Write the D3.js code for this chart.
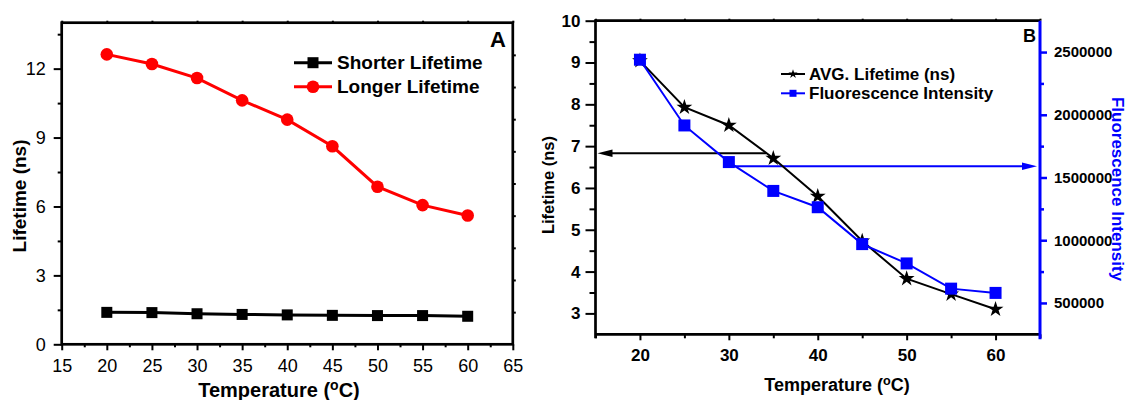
<!DOCTYPE html>
<html>
<head>
<meta charset="utf-8">
<script src="https://cdn.jsdelivr.net/npm/d3@7"></script>
<style>
  body { margin: 0; background: #fff; }
  svg { display: block; font-family: "Liberation Sans", Arial, sans-serif; }
</style>
</head>
<body>
<svg id="chart" width="1127" height="400"></svg>
<script>
// Temperatures measured (°C)
const temps = [20, 25, 30, 35, 40, 45, 50, 55, 60];

// Panel A: two lifetime components (ns)
const shorterLifetime = [1.39, 1.38, 1.33, 1.30, 1.28, 1.26, 1.25, 1.25, 1.22];
const longerLifetime  = [12.62, 12.20, 11.59, 10.62, 9.78, 8.62, 6.86, 6.06, 5.61];

// Panel B: average lifetime (ns) and fluorescence intensity (counts)
const avgLifetime  = [9.04, 7.93, 7.50, 6.71, 5.80, 4.73, 3.83, 3.46, 3.10];
const fluorescence = [2439000, 1915000, 1623000, 1393000, 1263000, 969000, 815000, 614000, 580000];

// Tick labels
const ticksAX = [15, 20, 25, 30, 35, 40, 45, 50, 55, 60, 65];
const ticksAY = [0, 3, 6, 9, 12];
const ticksBX = [20, 30, 40, 50, 60];
const ticksBY = [3, 4, 5, 6, 7, 8, 9, 10];
const ticksBRight = [500000, 1000000, 1500000, 2000000, 2500000];

// Axis-pointing arrows in panel B (data units)
const lifetimeArrow  = { from: 34.2, to: 15, value: 6.83 };
const intensityArrow = { from: 30, to: 65, value: 1590000 };

const svg = d3.select("#chart");
svg.append("rect").attr("width", 1127).attr("height", 400).attr("fill", "#fff");

function styleAxis(g, size, weight, width) {
  g.select(".domain").remove();
  g.selectAll("line").attr("stroke-width", width || 2);
  g.selectAll("text").attr("font-size", size).attr("font-weight", weight).attr("fill", "#000");
}

function temperatureTitle(x, y, size) {
  const t = svg.append("text").attr("x", x).attr("y", y).attr("text-anchor", "middle")
    .attr("font-size", size).attr("font-weight", "bold");
  t.append("tspan").text("Temperature (");
  t.append("tspan").attr("font-size", size * 0.7).attr("dy", -size * 0.36).text("o");
  t.append("tspan").attr("dy", size * 0.36).text("C)");
}

// ---------------- Panel A ----------------
const A = { l: 61.7, r: 512.8, t: 22.7, b: 344.3 };
const xA = d3.scaleLinear().domain([15, 65]).range([A.l, A.r]);
const yA = d3.scaleLinear().domain([0, 14]).range([A.b, A.t]);

// minor ticks
svg.append("g").attr("transform", `translate(0,${A.b})`)
  .call(d3.axisBottom(xA).tickValues([17.5, 22.5, 27.5, 32.5, 37.5, 42.5, 47.5, 52.5, 57.5, 62.5]).tickSize(3).tickFormat(""))
  .call(g => styleAxis(g, 18, "normal"));
svg.append("g").attr("transform", `translate(${A.l},0)`)
  .call(d3.axisLeft(yA).tickValues([1.5, 4.5, 7.5, 10.5, 13.5]).tickSize(4).tickFormat(""))
  .call(g => styleAxis(g, 18, "normal"));
svg.append("g").attr("transform", `translate(0,${A.t})`)
  .call(d3.axisTop(xA).tickValues(ticksAX).tickSize(2).tickFormat(""))
  .call(g => styleAxis(g, 18, "normal"));
svg.append("g").attr("transform", `translate(${A.r},0)`)
  .call(d3.axisRight(yA).tickValues([1.4, 2.8, 4.2, 5.6, 7, 8.4, 9.8, 11.2, 12.6]).tickSize(3).tickFormat(""))
  .call(g => styleAxis(g, 18, "normal"));

// major ticks
svg.append("g").attr("transform", `translate(0,${A.b})`)
  .call(d3.axisBottom(xA).tickValues(ticksAX).tickSize(6).tickPadding(9).tickFormat(d3.format("d")))
  .call(g => styleAxis(g, 18, "normal"));
svg.append("g").attr("transform", `translate(${A.l},0)`)
  .call(d3.axisLeft(yA).tickValues(ticksAY).tickSize(8).tickPadding(8).tickFormat(d3.format("d")))
  .call(g => styleAxis(g, 18, "normal"));

// frame
svg.append("rect").attr("x", A.l).attr("y", A.t).attr("width", A.r - A.l).attr("height", A.b - A.t)
  .attr("fill", "none").attr("stroke", "#000").attr("stroke-width", 2.7);

// series
const lineA = d3.line().x((d, i) => xA(temps[i])).y(d => yA(d));
svg.append("path").datum(shorterLifetime).attr("d", lineA)
  .attr("fill", "none").attr("stroke", "#000").attr("stroke-width", 3);
svg.selectAll(".sq-a").data(shorterLifetime).enter().append("rect")
  .attr("x", (d, i) => xA(temps[i]) - 5.5).attr("y", d => yA(d) - 5.5)
  .attr("width", 11).attr("height", 11).attr("fill", "#000");

svg.append("path").datum(longerLifetime).attr("d", lineA)
  .attr("fill", "none").attr("stroke", "#ff0000").attr("stroke-width", 3);
svg.selectAll(".ci-a").data(longerLifetime).enter().append("circle")
  .attr("cx", (d, i) => xA(temps[i])).attr("cy", d => yA(d)).attr("r", 6.3).attr("fill", "#ff0000");

// legend A
const legA = [
  { label: "Shorter Lifetime", color: "#000", kind: "square", y: 62.7 },
  { label: "Longer Lifetime", color: "#ff0000", kind: "circle", y: 86.7 }
];
legA.forEach(d => {
  svg.append("line").attr("x1", 294).attr("x2", 332).attr("y1", d.y).attr("y2", d.y)
    .attr("stroke", d.color).attr("stroke-width", 3);
  if (d.kind === "square") {
    svg.append("rect").attr("x", 313 - 5.5).attr("y", d.y - 5.5).attr("width", 11).attr("height", 11).attr("fill", d.color);
  } else {
    svg.append("circle").attr("cx", 313).attr("cy", d.y).attr("r", 6.3).attr("fill", d.color);
  }
  svg.append("text").attr("x", 337).attr("y", d.y).attr("dy", "0.35em")
    .attr("font-size", 19).attr("font-weight", "bold").text(d.label);
});

svg.append("text").attr("x", 506).attr("y", 47).attr("text-anchor", "end")
  .attr("font-size", 22).attr("font-weight", "bold").text("A");

svg.append("text").attr("transform", "translate(26,196) rotate(-90)").attr("text-anchor", "middle")
  .attr("font-size", 19).attr("font-weight", "bold").text("Lifetime (ns)");
temperatureTitle(279, 397, 20);

// ---------------- Panel B ----------------
const B = { l: 595.5, r: 1040, t: 20.7, b: 334.3 };
const xB = d3.scaleLinear().domain([15, 65]).range([B.l, B.r]);
const yB = d3.scaleLinear().domain([2.5, 10]).range([B.b, B.t]);
const yI = d3.scaleLinear().domain([250000, 2750000]).range([B.b, B.t]);

// minor ticks
svg.append("g").attr("transform", `translate(0,${B.b})`)
  .call(d3.axisBottom(xB).tickValues([15, 25, 35, 45, 55, 65]).tickSize(4).tickFormat(""))
  .call(g => styleAxis(g, 17, "bold"));
svg.append("g").attr("transform", `translate(${B.l},0)`)
  .call(d3.axisLeft(yB).tickValues([3.5, 4.5, 5.5, 6.5, 7.5, 8.5, 9.5]).tickSize(6).tickFormat(""))
  .call(g => styleAxis(g, 17, "bold"));
svg.append("g").attr("transform", `translate(0,${B.t})`)
  .call(d3.axisTop(xB).tickValues(ticksAX).tickSize(2).tickFormat(""))
  .call(g => styleAxis(g, 17, "bold"));
svg.append("g").attr("transform", `translate(${B.r},0)`)
  .call(d3.axisRight(yI).tickValues([750000, 1250000, 1750000, 2250000]).tickSize(4).tickFormat(""))
  .call(g => { styleAxis(g, 15, "bold", 2.5); g.selectAll("line").attr("stroke", "#0000ff"); });

// major ticks
svg.append("g").attr("transform", `translate(0,${B.b})`)
  .call(d3.axisBottom(xB).tickValues(ticksBX).tickSize(6).tickPadding(9).tickFormat(d3.format("d")))
  .call(g => styleAxis(g, 17, "bold"));
svg.append("g").attr("transform", `translate(${B.l},0)`)
  .call(d3.axisLeft(yB).tickValues(ticksBY).tickSize(10).tickPadding(5).tickFormat(d3.format("d")))
  .call(g => styleAxis(g, 17, "bold"));
svg.append("g").attr("transform", `translate(${B.r},0)`)
  .call(d3.axisRight(yI).tickValues(ticksBRight).tickSize(7).tickPadding(7).tickFormat(d3.format("d")))
  .call(g => { styleAxis(g, 15, "bold", 2.5); g.selectAll("line").attr("stroke", "#0000ff"); });

// frame: black on three sides, blue right axis
svg.append("path").attr("d", `M${B.l},${B.b + 4}V${B.t}H${B.r}`)
  .attr("fill", "none").attr("stroke", "#000").attr("stroke-width", 2.7);
svg.append("line").attr("x1", B.l).attr("x2", B.r).attr("y1", B.b).attr("y2", B.b)
  .attr("stroke", "#000").attr("stroke-width", 2.7);
svg.append("line").attr("x1", B.r).attr("x2", B.r).attr("y1", B.t).attr("y2", B.b + 5)
  .attr("stroke", "#0000ff").attr("stroke-width", 3);

// arrows pointing to each y axis
function arrow(x1, x2, y, color) {
  const dir = Math.sign(x2 - x1);
  svg.append("line").attr("x1", x1).attr("x2", x2 - dir * 12).attr("y1", y).attr("y2", y)
    .attr("stroke", color).attr("stroke-width", 2);
  svg.append("path")
    .attr("d", `M${x2},${y}L${x2 - dir * 15},${y - 3.8}L${x2 - dir * 15},${y + 3.8}Z`)
    .attr("fill", color);
}
arrow(xB(lifetimeArrow.from), xB(lifetimeArrow.to) + 2, yB(lifetimeArrow.value), "#000");
arrow(xB(intensityArrow.from), xB(intensityArrow.to) - 3, yI(intensityArrow.value), "#0000ff");

// average lifetime series
const star = d3.symbol().type(d3.symbolStar);
svg.append("path").datum(avgLifetime)
  .attr("d", d3.line().x((d, i) => xB(temps[i])).y(d => yB(d)))
  .attr("fill", "none").attr("stroke", "#000").attr("stroke-width", 2);
svg.selectAll(".st-b").data(avgLifetime).enter().append("path")
  .attr("transform", (d, i) => `translate(${xB(temps[i])},${yB(d)})`)
  .attr("d", star.size(78)()).attr("fill", "#000");

// fluorescence intensity series
svg.append("path").datum(fluorescence)
  .attr("d", d3.line().x((d, i) => xB(temps[i])).y(d => yI(d)))
  .attr("fill", "none").attr("stroke", "#0000ff").attr("stroke-width", 2);
svg.selectAll(".sq-b").data(fluorescence).enter().append("rect")
  .attr("x", (d, i) => xB(temps[i]) - 6).attr("y", d => yI(d) - 6)
  .attr("width", 12).attr("height", 12).attr("fill", "#0000ff");

// legend B
svg.append("line").attr("x1", 781).attr("x2", 805).attr("y1", 74).attr("y2", 74)
  .attr("stroke", "#000").attr("stroke-width", 2);
svg.append("path").attr("transform", "translate(793,74)").attr("d", star.size(26)()).attr("fill", "#000");
svg.append("text").attr("x", 809).attr("y", 74).attr("dy", "0.35em")
  .attr("font-size", 17).attr("font-weight", "bold").text("AVG. Lifetime (ns)");
svg.append("line").attr("x1", 781).attr("x2", 805).attr("y1", 93.3).attr("y2", 93.3)
  .attr("stroke", "#0000ff").attr("stroke-width", 2);
svg.append("rect").attr("x", 789.5).attr("y", 89.8).attr("width", 7).attr("height", 7).attr("fill", "#0000ff");
svg.append("text").attr("x", 809).attr("y", 93.3).attr("dy", "0.35em")
  .attr("font-size", 17).attr("font-weight", "bold").text("Fluorescence Intensity");

svg.append("text").attr("x", 1036).attr("y", 41.7).attr("text-anchor", "end")
  .attr("font-size", 18).attr("font-weight", "bold").text("B");

svg.append("text").attr("transform", "translate(554,185) rotate(-90)").attr("text-anchor", "middle")
  .attr("font-size", 16.5).attr("font-weight", "bold").text("Lifetime (ns)");
svg.append("text").attr("transform", "translate(1112,189) rotate(90)").attr("text-anchor", "middle")
  .attr("font-size", 17).attr("font-weight", "bold").attr("fill", "#0000ff").text("Fluorescence Intensity");
temperatureTitle(837, 391, 18);
</script>
</body>
</html>
